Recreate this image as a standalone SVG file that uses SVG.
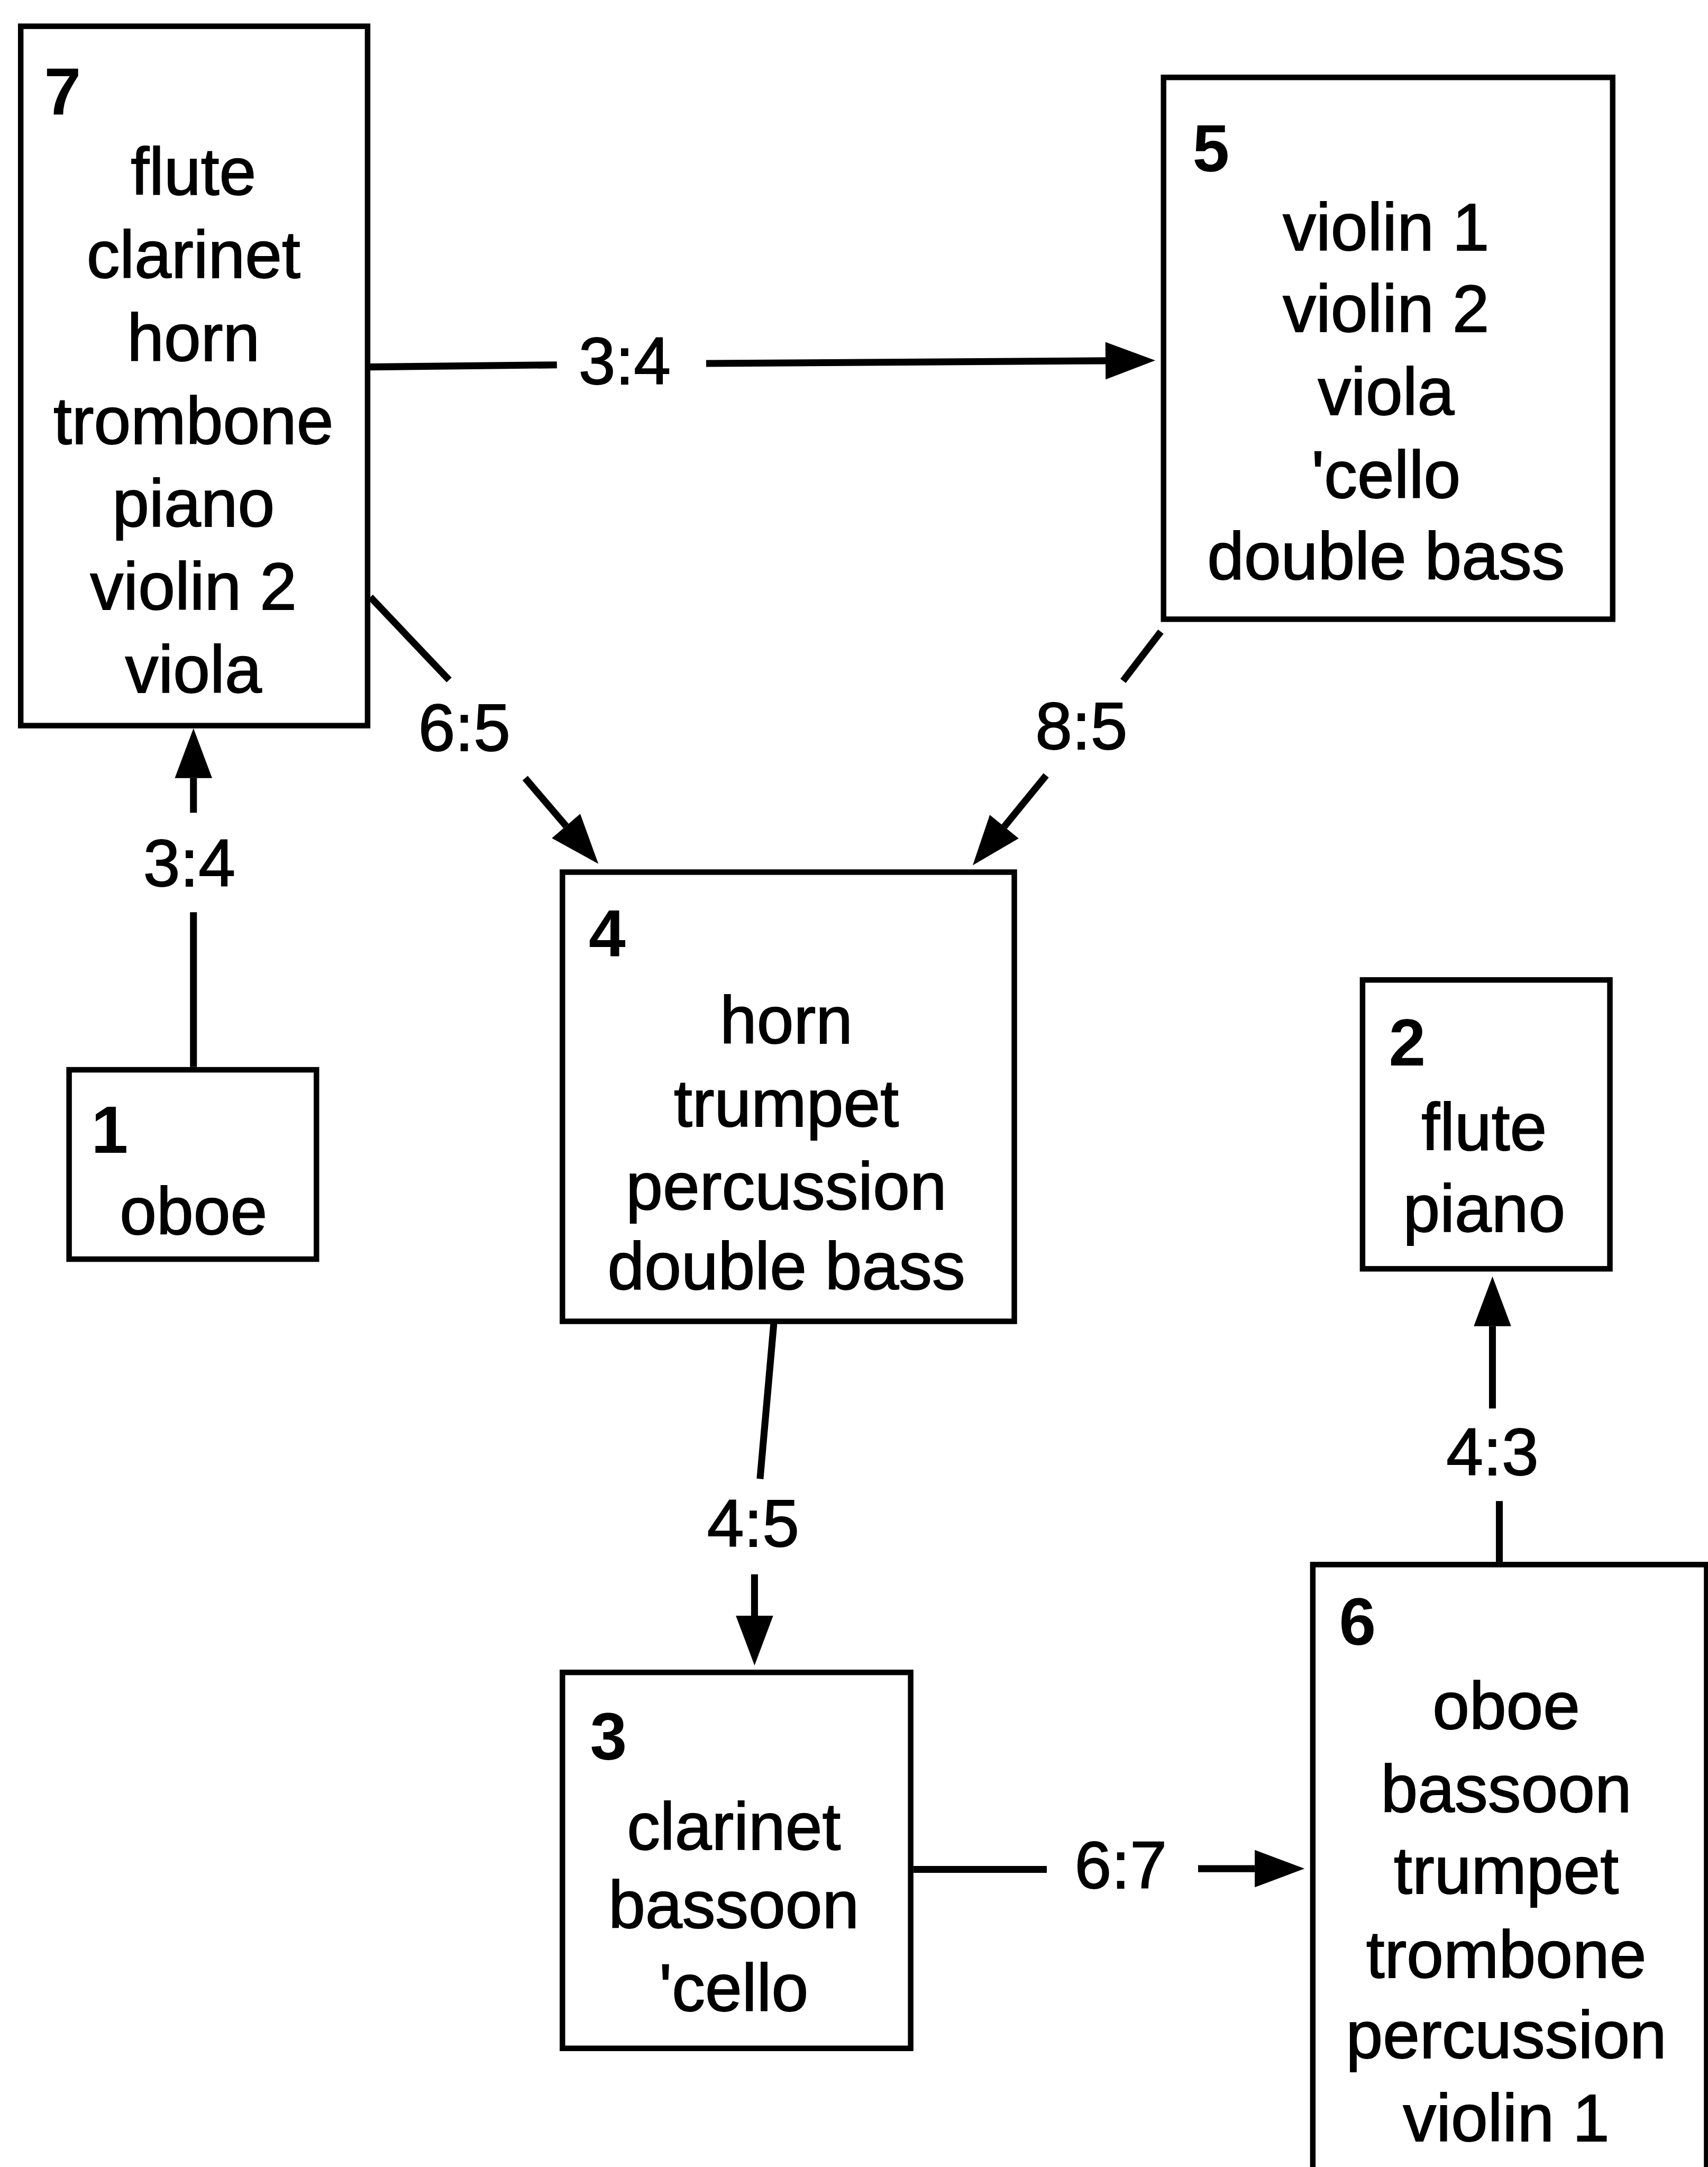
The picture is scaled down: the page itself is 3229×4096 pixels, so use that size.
<svg xmlns="http://www.w3.org/2000/svg" width="3229" height="4096" viewBox="0 0 3229 4096">
<style>
.box{fill:#fff;stroke:#000;stroke-width:4}
.t{font-family:"Liberation Sans",Arial,sans-serif;font-size:48px;fill:#000;stroke:#000;stroke-width:0.7;text-anchor:middle}
.n{font-family:"Liberation Sans",Arial,sans-serif;font-size:48px;font-weight:bold;fill:#000}
.c{fill:none;stroke:#000;stroke-width:5}
.a{marker-end:url(#ah)}
</style>
<defs>
<marker id="ah" markerUnits="userSpaceOnUse" markerWidth="40" markerHeight="30" viewBox="0 -15 38 30" refX="0" refY="0" orient="auto" overflow="visible">
<path d="M0,-13.5 L36,0 L0,13.5 Z" fill="#000"/>
</marker>
</defs>
<rect width="3229" height="4096" fill="#fff"/>
<g transform="scale(2.6125)">
<g id="connectors">
<line class="c" x1="266" y1="265.5" x2="403" y2="264"/>
<line class="c a" x1="511" y1="263" x2="800" y2="261"/>
<text class="t" x="452" y="278">3:4</text>
<line class="c" x1="268" y1="432" x2="325" y2="492"/>
<line class="c a" x1="380" y1="563" x2="409.6" y2="597.6"/>
<text class="t" x="336" y="543">6:5</text>
<line class="c" x1="840" y1="457" x2="812.7" y2="492.6"/>
<line class="c a" x1="757" y1="561" x2="726.7" y2="598.1"/>
<text class="t" x="782.5" y="542">8:5</text>
<line class="c" x1="140" y1="772" x2="140" y2="660"/>
<line class="c a" x1="140" y1="588" x2="140" y2="563"/>
<text class="t" x="137" y="641">3:4</text>
<line class="c" x1="560" y1="957" x2="550" y2="1070"/>
<line class="c a" x1="546" y1="1139" x2="546" y2="1169"/>
<text class="t" x="545" y="1119">4:5</text>
<line class="c" x1="661" y1="1352.5" x2="757.5" y2="1352.5"/>
<line class="c a" x1="867" y1="1352" x2="908" y2="1352"/>
<text class="t" x="811" y="1366">6:7</text>
<line class="c" x1="1085" y1="1130" x2="1085" y2="1086"/>
<line class="c a" x1="1080" y1="1019" x2="1080" y2="959.5"/>
<text class="t" x="1080" y="1067">4:3</text>
</g>
<g id="node7">
<rect class="box" x="15" y="19" width="251" height="506"/>
<text class="n" x="32" y="83">7</text>
<text class="t" x="140" y="141">flute</text>
<text class="t" x="140" y="201">clarinet</text>
<text class="t" x="140" y="261">horn</text>
<text class="t" x="140" y="321">trombone</text>
<text class="t" x="140" y="381">piano</text>
<text class="t" x="140" y="441">violin 2</text>
<text class="t" x="140" y="501">viola</text>
</g>
<g id="node5">
<rect class="box" x="842" y="56" width="325" height="392"/>
<text class="n" x="863" y="124">5</text>
<text class="t" x="1003" y="181">violin 1</text>
<text class="t" x="1003" y="240">violin 2</text>
<text class="t" x="1003" y="300">viola</text>
<text class="t" x="1003" y="360">'cello</text>
<text class="t" x="1003" y="419">double bass</text>
</g>
<g id="node4">
<rect class="box" x="407" y="631" width="327" height="325"/>
<text class="n" x="426" y="692">4</text>
<text class="t" x="569" y="755">horn</text>
<text class="t" x="569" y="815">trumpet</text>
<text class="t" x="569" y="875">percussion</text>
<text class="t" x="569" y="933">double bass</text>
</g>
<g id="node1">
<rect class="box" x="50" y="774" width="179" height="137"/>
<text class="n" x="66" y="834">1</text>
<text class="t" x="140" y="893">oboe</text>
</g>
<g id="node2">
<rect class="box" x="986" y="709" width="179" height="209"/>
<text class="n" x="1005" y="771">2</text>
<text class="t" x="1074" y="832">flute</text>
<text class="t" x="1074" y="891">piano</text>
</g>
<g id="node3">
<rect class="box" x="407" y="1210" width="252" height="272"/>
<text class="n" x="427" y="1273">3</text>
<text class="t" x="531" y="1338">clarinet</text>
<text class="t" x="531" y="1395">bassoon</text>
<text class="t" x="531" y="1455">'cello</text>
</g>
<g id="node6">
<rect class="box" x="950" y="1132" width="285" height="500"/>
<text class="n" x="969" y="1190">6</text>
<text class="t" x="1090" y="1251">oboe</text>
<text class="t" x="1090" y="1311">bassoon</text>
<text class="t" x="1090" y="1370">trumpet</text>
<text class="t" x="1090" y="1431">trombone</text>
<text class="t" x="1090" y="1489">percussion</text>
<text class="t" x="1090" y="1549">violin 1</text>
</g>
</g>
</svg>
